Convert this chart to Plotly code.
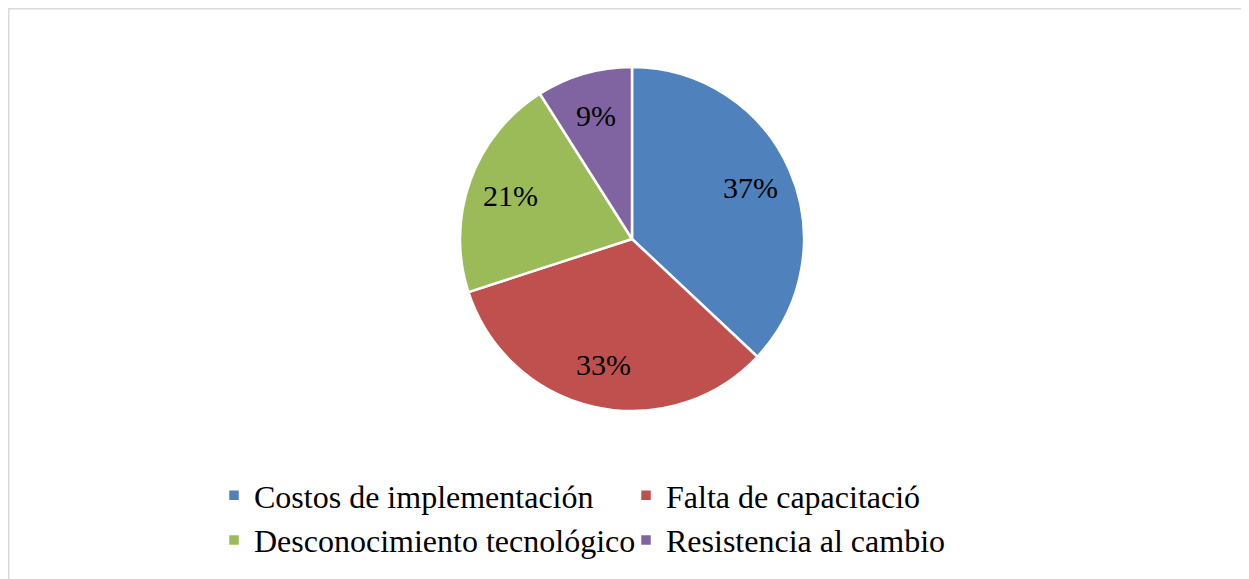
import math
import plotly.graph_objects as go

categories = ["Costos de implementación", "Falta de capacitació",
              "Desconocimiento tecnológico", "Resistencia al cambio"]
values = [37, 33, 21, 9]
colors = ["#4F81BD", "#C0504D", "#9BBB59", "#8064A2"]

# figure geometry (the page body adds an 8px offset)
W, H = 1249, 579
MR = 20
PW = W - MR
cx, cy, r = 624, 231, 172
label_frac = 0.75

fig = go.Figure(go.Pie(
    labels=categories,
    values=values,
    sort=False,
    direction="clockwise",
    rotation=0,
    marker=dict(colors=colors, line=dict(color="white", width=2.5)),
    textinfo="none",
    hoverinfo="label+percent",
    domain=dict(x=[(cx - r) / PW, (cx + r) / PW],
                y=[1 - (cy + r) / H, 1 - (cy - r) / H]),
))

# percentage labels placed at the middle angle of each slice
total = sum(values)
annotations = []
cum = 0
for v in values:
    mid = (cum + v / 2) / total * 2 * math.pi
    cum += v
    px = cx + label_frac * r * math.sin(mid)
    py = cy - label_frac * r * math.cos(mid)
    annotations.append(dict(
        x=px / PW, y=1 - py / H, xref="paper", yref="paper",
        text=f"{round(v / total * 100)}%", showarrow=False,
        xanchor="center", yanchor="middle",
        font=dict(family="Liberation Serif", size=30, color="black"),
    ))

fig.update_layout(
    width=W, height=H,
    margin=dict(l=0, r=MR, t=0, b=0),
    paper_bgcolor="white",
    font=dict(family="Liberation Serif", color="black"),
    showlegend=True,
    legend=dict(
        orientation="h",
        x=206 / PW, xanchor="left",
        y=1 - 460 / H, yanchor="top",
        font=dict(family="Liberation Serif", size=32, color="black"),
        entrywidth=367,
        entrywidthmode="pixels",
        itemwidth=30,
        traceorder="normal",
    ),
    annotations=annotations,
    shapes=[dict(type="rect", xref="paper", yref="paper",
                 x0=0.75 / PW, x1=1.05, y0=-0.05, y1=1 - 0.75 / H,
                 line=dict(color="#D9D9D9", width=1.5))],
)

fig.write_html("out.html")
